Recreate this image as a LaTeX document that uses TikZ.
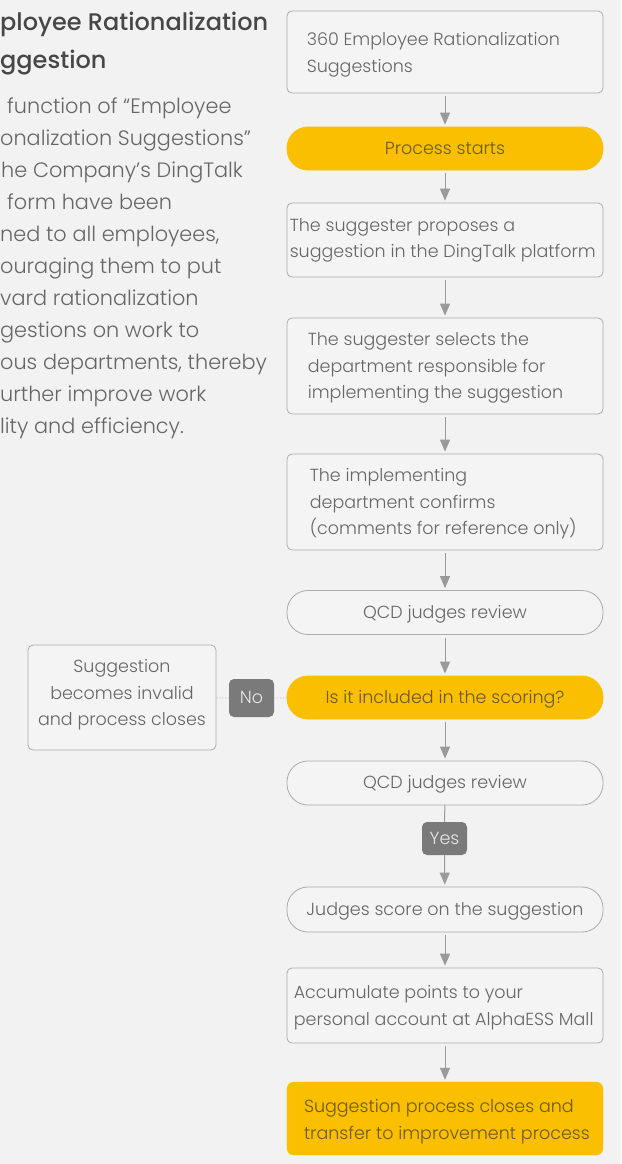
\documentclass[tikz,border=0pt]{standalone}
\usepackage{fontspec}
\setmainfont{Poppins}[UprightFont=* Light, BoldFont=* Medium]
\usetikzlibrary{arrows.meta}
\definecolor{bg}{HTML}{F2F2F2}
\definecolor{boxfill}{HTML}{F4F4F4}
\definecolor{boxline}{HTML}{ABABAB}
\definecolor{txt}{HTML}{666666}
\definecolor{yel}{HTML}{F9BF00}
\definecolor{yeltxt}{HTML}{6B5A1E}
\definecolor{arr}{HTML}{9A9A9A}
\definecolor{tag}{HTML}{7A7A7A}
\definecolor{tagtxt}{HTML}{E6E6E6}
\definecolor{ttl}{HTML}{474747}
\begin{document}
\begin{tikzpicture}[x=1pt,y=-1pt,
  every node/.style={inner sep=0pt},
  rbox/.style={draw=boxline, fill=boxfill, line width=0.8pt, rounded corners=5pt, minimum width=316pt},
  ybox/.style={draw=yel, fill=yel, rounded corners=7pt, minimum width=316pt},
  pill/.style={draw=boxline, fill=boxfill, line width=0.8pt, rounded corners=21pt, minimum width=316pt, minimum height=44pt, text=txt, text height=12.5pt, text depth=1.5pt, font=\fontsize{17.5}{26.5}\selectfont},
  ypill/.style={pill, draw=yel, fill=yel, text=yeltxt},
  lbl/.style={anchor=west, align=left, text=txt, yshift=-2pt, font=\fontsize{17.5}{26.5}\selectfont},
  ylbl/.style={lbl, text=yeltxt},
  tagbox/.style={fill=tag, rounded corners=5pt, text=tagtxt, text height=12.5pt, text depth=1.5pt, font=\fontsize{17.5}{20}\selectfont},
  para/.style={anchor=base west, text=txt, font=\fontsize{20.8}{32}\selectfont},
  ttlstyle/.style={anchor=base west, text=ttl, font=\fontsize{24}{36}\selectfont\bfseries},
  flow/.style={draw=arr, line width=1pt, -{Triangle[width=10pt,length=12pt]}, shorten <=3pt, shorten >=2pt},
  plain/.style={draw=arr, line width=1pt},
  dots/.style={draw=boxline, line width=0.8pt, dotted}
]
\fill[bg] (0,0) rectangle (621,1164);
\useasboundingbox (0,0) rectangle (621,1164);

% left text
\node[ttlstyle] (t1) at (0,31) {ployee Rationalization};
\node[ttlstyle] (t2) at (0,68) {ggestion};
\node[para] (p1) at (7,113) {function of “Employee};
\node[para] (p2) at (0,145) {onalization Suggestions”};
\node[para] (p3) at (1,177) {he Company’s DingTalk};
\node[para] (p4) at (7,209) {form have been};
\node[para] (p5) at (0,241) {ned to all employees,};
\node[para] (p6) at (0,273) {ouraging them to put};
\node[para] (p7) at (0,305) {vard rationalization};
\node[para] (p8) at (0,337) {gestions on work to};
\node[para] (p9) at (0,369) {ous departments, thereby};
\node[para] (p10) at (0,401) {urther improve work};
\node[para] (p11) at (0,433) {lity and efficiency.};

% flow boxes
\node[rbox, minimum height=82pt] (b1) at (445,52) {};
\node[lbl, yshift=-1pt] (b1t) at ([xshift=20pt]b1.west) {360 Employee Rationalization\\Suggestions};

\node[ypill, minimum height=43pt] (start) at (445,148.5) {Process starts};

\node[rbox, minimum height=74pt] (b3) at (445,240) {};
\node[lbl, yshift=1.5pt] (b3t) at ([xshift=3pt]b3.west) {The suggester proposes a\\suggestion in the DingTalk platform};

\node[rbox, minimum height=96pt] (b4) at (445,366) {};
\node[lbl] (b4t) at ([xshift=21pt]b4.west) {The suggester selects the\\department responsible for\\implementing the suggestion};

\node[rbox, minimum height=96pt] (b5) at (445,502) {};
\node[lbl] (b5t) at ([xshift=23pt]b5.west) {The implementing\\department confirms\\(comments for reference only)};

\node[pill] (q1) at (445,612.5) {QCD judges review};
\node[ypill, minimum height=43pt] (inc) at (445,697.5) {Is it included in the scoring?};
\node[pill] (q2) at (445,783) {QCD judges review};
\node[tagbox, minimum width=45pt, minimum height=33pt] (yes) at (444.5,838.5) {Yes};
\node[pill, minimum height=45pt] (judge) at (445,909.5) {Judges score on the suggestion};

\node[rbox, minimum height=75pt] (b11) at (445,1005.5) {};
\node[lbl] (b11t) at ([xshift=7pt]b11.west) {Accumulate points to your\\personal account at AlphaESS Mall};

\node[ybox, minimum height=73pt] (fin) at (445,1118.5) {};
\node[ylbl, yshift=-1pt] (fint) at ([xshift=17pt]fin.west) {Suggestion process closes and\\transfer to improvement process};

% left branch
\node[rbox, minimum width=188pt, minimum height=105pt, rounded corners=5pt] (inv) at (122,697.5) {};
\node[align=center, text=txt, font=\fontsize{17.5}{26.5}\selectfont, yshift=2.5pt] (invt) at (inv.center) {Suggestion\\becomes invalid\\and process closes};
\node[tagbox, minimum width=45pt, minimum height=38pt] (no) at (251.5,698) {No};

% connectors
\draw[flow] (b1) -- (start);
\draw[flow] (start) -- (b3);
\draw[flow] (b3) -- (b4);
\draw[flow] (b4) -- (b5);
\draw[flow] (b5) -- (q1);
\draw[flow] (q1) -- (inc);
\draw[flow] (inc) -- (q2);
\draw[plain] (q2) -- (yes);
\draw[flow, shorten <=0pt] (yes) -- (judge);
\draw[flow] (judge) -- (b11);
\draw[flow] (b11) -- (fin);
\draw[dots] (inc) -- (no);
\draw[dots] (no) -- (inv);
\end{tikzpicture}
\end{document}
